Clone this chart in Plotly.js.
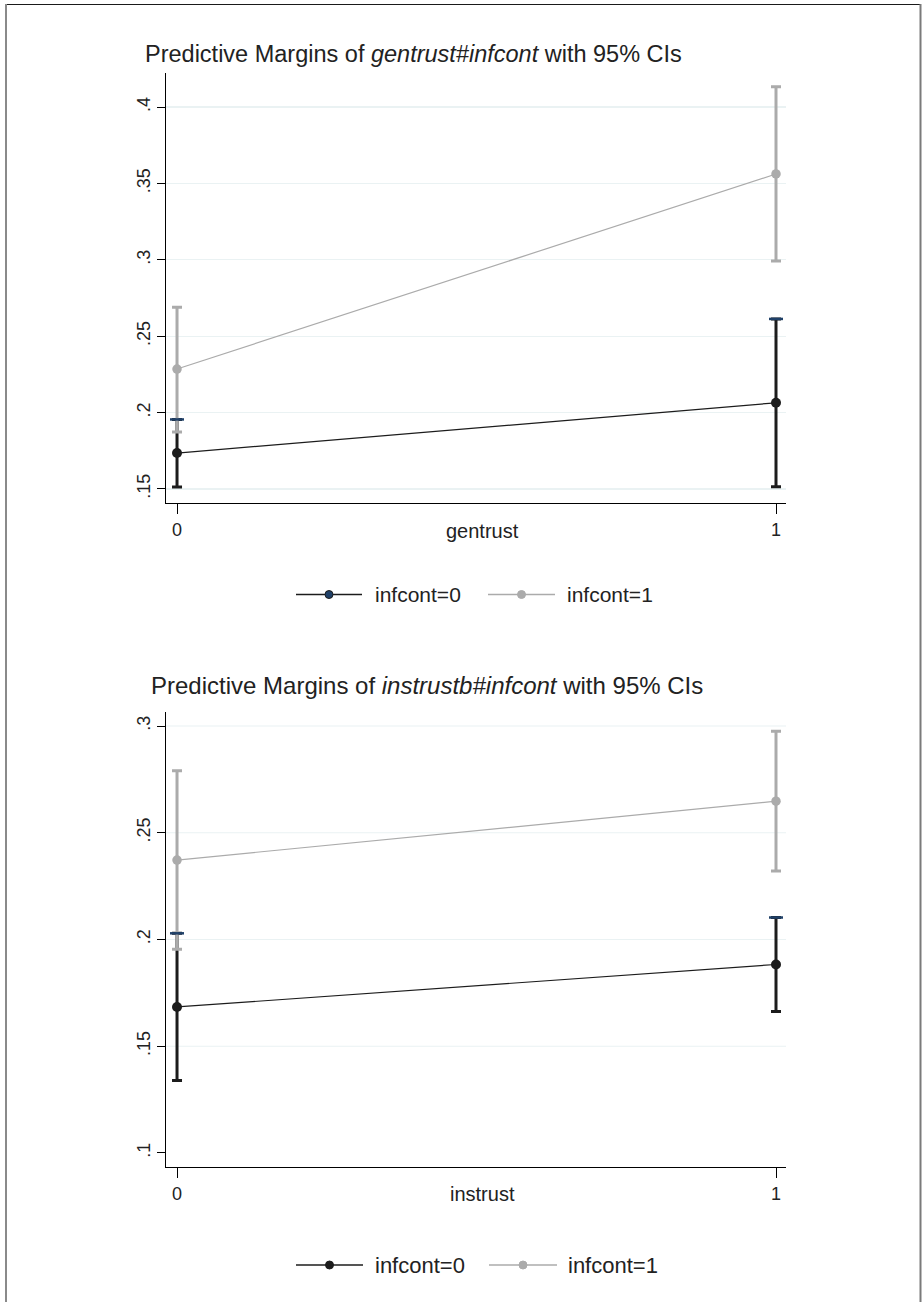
<!DOCTYPE html>
<html>
<head>
<meta charset="utf-8">
<script src="https://cdn.plot.ly/plotly-3.0.1.min.js"></script>
<style>html,body{margin:0;padding:0;background:#fff;}#chart{width:924px;height:1302px;}</style>
</head>
<body>
<div id="chart"></div>
<script>
// ---------- data ----------
const xLevels = [0, 1];
const xTickText = ['0', '1'];

// Top panel: gentrust # infcont
const topMargin0 = [0.1735, 0.2064];
const topLow0    = [0.1513, 0.1515];
const topHigh0   = [0.1955, 0.2613];
const topMargin1 = [0.2285, 0.3562];
const topLow1    = [0.1873, 0.2992];
const topHigh1   = [0.2690, 0.4133];
const topYTicks  = [0.15, 0.2, 0.25, 0.3, 0.35, 0.4];
const topYText   = ['.15', '.2', '.25', '.3', '.35', '.4'];

// Bottom panel: instrustb # infcont
const botMargin0 = [0.1684, 0.1883];
const botLow0    = [0.1339, 0.1663];
const botHigh0   = [0.2029, 0.2103];
const botMargin1 = [0.2372, 0.2648];
const botLow1    = [0.1954, 0.2321];
const botHigh1   = [0.2790, 0.2975];
const botYTicks  = [0.1, 0.15, 0.2, 0.25, 0.3];
const botYText   = ['.1', '.15', '.2', '.25', '.3'];
const botGridVals = [0.15, 0.2, 0.25, 0.3];

const seriesNames = ['infcont=0', 'infcont=1'];

// ---------- helpers ----------
const W = 924, H = 1302;
const px = x => x / W;
const py = y => 1 - y / H;
const diff = (a, b) => a.map((v, i) => v - b[i]);

const BLACK = '#1c1c1c', GREY = '#ababab', NAVY = '#1f4068', GRID = '#eaf2f3', TXT = '#222222';
const FONT = 'Liberation Sans, Arial, Helvetica, sans-serif';

function seriesTraces(xa, ya, m0, lo0, hi0, m1, lo1, hi1) {
  return [
    {
      x: xLevels, y: m0, xaxis: xa, yaxis: ya, name: seriesNames[0], type: 'scatter',
      mode: 'lines+markers', line: {color: BLACK, width: 1.2},
      marker: {color: BLACK, size: 10},
      error_y: {type: 'data', symmetric: false, array: diff(hi0, m0), arrayminus: diff(m0, lo0),
                color: BLACK, thickness: 3, width: 5},
      showlegend: false, hoverinfo: 'x+y'
    },
    {
      x: xLevels, y: m1, xaxis: xa, yaxis: ya, name: seriesNames[1], type: 'scatter',
      mode: 'lines+markers', line: {color: GREY, width: 1.2},
      marker: {color: GREY, size: 9.5},
      error_y: {type: 'data', symmetric: false, array: diff(hi1, m1), arrayminus: diff(m1, lo1),
                color: GREY, thickness: 3, width: 5},
      showlegend: false, hoverinfo: 'x+y'
    },
    {
      x: xLevels, y: hi0, xaxis: xa, yaxis: ya, type: 'scatter', mode: 'markers',
      marker: {symbol: 'line-ew', size: 10, line: {color: NAVY, width: 2.5}},
      showlegend: false, hoverinfo: 'skip'
    }
  ];
}

const data = [
  ...seriesTraces('x', 'y', topMargin0, topLow0, topHigh0, topMargin1, topLow1, topHigh1),
  ...seriesTraces('x2', 'y2', botMargin0, botLow0, botHigh0, botMargin1, botLow1, botHigh1)
];

const xDomain = [px(166), px(786)];
const xRange = [-0.0184, 1.0167];

function xAxis(anchor) {
  return {
    domain: xDomain, range: xRange, anchor: anchor, showgrid: false, zeroline: false,
    showline: true, linecolor: '#000', linewidth: 1,
    tickvals: xLevels, ticktext: xTickText, ticks: 'outside', ticklen: 10, tickwidth: 1, tickcolor: '#000',
    tickfont: {family: FONT, size: 18, color: TXT}, fixedrange: true
  };
}
function yAxis(anchor, dom, range, tv, tt, grid) {
  return {
    domain: dom, range: range, anchor: anchor, showgrid: grid, gridcolor: GRID, gridwidth: 1.2,
    zeroline: false, showline: true, linecolor: '#000', linewidth: 1,
    tickvals: tv, ticktext: tt, ticks: 'outside', ticklen: 8, tickwidth: 1, tickcolor: '#000',
    tickangle: -90, tickfont: {family: FONT, size: 18, color: TXT}, fixedrange: true
  };
}

const shapes = [];
// bottom panel gridlines (none at .1)
botGridVals.forEach(v => shapes.push({type: 'line', xref: 'x2 domain', yref: 'y2', x0: 0, x1: 1, y0: v, y1: v,
  line: {color: GRID, width: 1.2}, layer: 'below'}));
// page frame
shapes.push({type: 'line', xref: 'paper', yref: 'paper', x0: px(6), x1: px(921), y0: py(4.5), y1: py(4.5), line: {color: '#1a1a1a', width: 1.2}});
shapes.push({type: 'line', xref: 'paper', yref: 'paper', x0: px(6), x1: px(6), y0: py(4), y1: 0, line: {color: '#8a8a8a', width: 2}});
shapes.push({type: 'line', xref: 'paper', yref: 'paper', x0: px(920.5), x1: px(920.5), y0: py(4), y1: 0, line: {color: '#7a7a7a', width: 2}});

const annotations = [];
function legendBlock(y, m0color, textSize, x0s) {
  // x0s: [line0 start, line0 end, text0 start, line1 start, line1 end, text1 start]
  const cols = [[BLACK, m0color], [GREY, GREY]];
  [0, 1].forEach(i => {
    const ls = x0s[i * 3], le = x0s[i * 3 + 1], ts = x0s[i * 3 + 2];
    shapes.push({type: 'line', xref: 'paper', yref: 'paper', x0: px(ls), x1: px(le), y0: py(y), y1: py(y),
      line: {color: cols[i][0], width: 1.5}});
    const cx = (ls + le) / 2, r = 4;
    shapes.push({type: 'circle', xref: 'paper', yref: 'paper', x0: px(cx - r), x1: px(cx + r), y0: py(y + r), y1: py(y - r),
      fillcolor: cols[i][1], line: {color: i === 0 ? BLACK : GREY, width: 1}});
    annotations.push({xref: 'paper', yref: 'paper', x: px(ts), y: py(y), xanchor: 'left', yanchor: 'middle',
      text: seriesNames[i], showarrow: false, font: {family: FONT, size: textSize, color: TXT}});
  });
}
legendBlock(594.5, NAVY, 21, [296, 362, 373, 488, 555, 565]);
legendBlock(1265, BLACK, 22, [296, 363, 373, 489, 557, 566]);

annotations.push({xref: 'paper', yref: 'paper', x: px(143), y: py(54), xanchor: 'left', yanchor: 'middle', showarrow: false,
  text: 'Predictive Margins of <i>gentrust#infcont</i> with 95% CIs', font: {family: FONT, size: 23.5, color: TXT}});
annotations.push({xref: 'paper', yref: 'paper', x: px(149), y: py(685), xanchor: 'left', yanchor: 'middle', showarrow: false,
  text: 'Predictive Margins of <i>instrustb#infcont</i> with 95% CIs', font: {family: FONT, size: 24, color: TXT}});
annotations.push({xref: 'paper', yref: 'paper', x: px(482), y: py(531), xanchor: 'center', yanchor: 'middle', showarrow: false,
  text: 'gentrust', font: {family: FONT, size: 20, color: TXT}});
annotations.push({xref: 'paper', yref: 'paper', x: px(482), y: py(1194), xanchor: 'center', yanchor: 'middle', showarrow: false,
  text: 'instrust', font: {family: FONT, size: 20, color: TXT}});

const layout = {
  width: W, height: H, margin: {l: 0, r: 0, t: 0, b: 0},
  paper_bgcolor: '#ffffff', plot_bgcolor: '#ffffff', showlegend: false,
  font: {family: FONT, color: TXT},
  xaxis: xAxis('y'),
  yaxis: yAxis('x', [py(503), py(73)], [0.1408, 0.4223], topYTicks, topYText, true),
  xaxis2: xAxis('y2'),
  yaxis2: yAxis('x2', [py(1167), py(712)], [0.09344, 0.30656], botYTicks, botYText, false),
  shapes: shapes, annotations: annotations
};

Plotly.newPlot('chart', data, layout, {displayModeBar: false, staticPlot: true});
</script>
</body>
</html>
